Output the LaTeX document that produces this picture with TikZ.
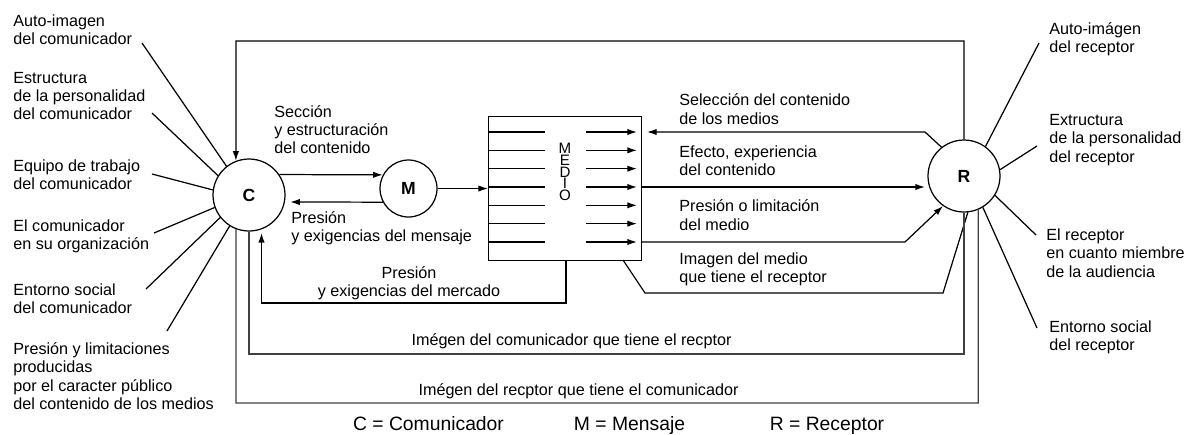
\documentclass[tikz,border=0pt]{standalone}
\usepackage{fontspec}
\setmainfont{Liberation Sans}
\usetikzlibrary{arrows.meta}
\begin{document}
\begin{tikzpicture}[x=0.02cm,y=-0.02cm,
  lw/.style={line width=0.7pt},
  arr/.style={lw,-{Latex[length=5.5pt,width=3.6pt]}},
  loopline/.style={lw,draw=black!75},
  circ/.style={circle,draw,lw,inner sep=0pt,fill=white,font=\fontsize{10}{12}\selectfont\bfseries},
  lbl/.style={inner sep=0pt,align=left,anchor=west,font=\fontsize{9.2}{10.45}\selectfont},
  clbl/.style={inner sep=0pt,align=center,font=\fontsize{9.2}{10.45}\selectfont},
  leg/.style={inner sep=0pt,anchor=base,font=\fontsize{11}{13}\selectfont},
]
\useasboundingbox (0,0) rectangle (1190,434);

% main nodes
\node[circ,minimum size=1.44cm] (C) at (249,195) {C};
\node[circ,minimum size=1.14cm] (M) at (408.5,188.5) {M};
\node[circ,minimum size=1.44cm] (R) at (964,176) {R};
\node[draw,lw,minimum width=3.06cm,minimum height=2.88cm,inner sep=0pt,anchor=north west] (medio) at (488,116) {};

% inner lines of the medium
\foreach \i in {0,...,6} {
  \pgfmathsetmacro\yy{132+18.33*\i}
  \draw[lw] (488,\yy) -- (545,\yy);
  \draw[arr] (586,\yy) -- (637,\yy);
}
\node[inner sep=0pt,align=center,font=\fontsize{8.6}{6.75}\selectfont] (medtxt) at (565,172) {M\\E\\D\\I\\O};

% left labels
\node[lbl] (l1) at (13,30) {Auto-imagen\\del comunicador};
\node[lbl] (l2) at (13,96) {Estructura\\de la personalidad\\del comunicador};
\node[lbl] (l3) at (13,174.5) {Equipo de trabajo\\del comunicador};
\node[lbl] (l4) at (13,236) {El comunicador\\en su organización};
\node[lbl] (l5) at (13,298.5) {Entorno social\\del comunicador};
\node[lbl] (l6) at (13,376) {Presión y limitaciones\\producidas\\por el caracter público\\del contenido de los medios};

\coordinate (s1) at (142,43);
\coordinate (s2) at (152,113);
\coordinate (s3) at (152,174);
\coordinate (s4) at (154,233);
\coordinate (s5) at (146,289);
\coordinate (s6) at (167,331);
\draw[lw] (s1) -- (C.128);
\draw[lw] (s2) -- (C.148);
\draw[lw] (s3) -- (C.172);
\draw[lw] (s4) -- (C.200);
\draw[lw] (s5) -- (C.218);
\draw[lw] (s6) -- (C.238);

% right labels
\node[lbl] (r1) at (1049,39.5) {Auto-imágen\\del receptor};
\node[lbl] (r2) at (1049,140) {Extructura\\de la personalidad\\del receptor};
\node[lbl] (r3) at (1046,253) {El receptor\\en cuanto miembre\\de la audiencia};
\node[lbl] (r4) at (1049,337) {Entorno social\\del receptor};

\coordinate (t1) at (1039,43);
\coordinate (t2) at (1037,146);
\coordinate (t3) at (1036,235);
\coordinate (t4) at (1037,328);
\draw[lw] (t1) -- (R.54);
\draw[lw] (t2) -- (R.10);
\draw[lw] (t3) -- (R.328);
\draw[lw] (t4) -- (R.301);

% C <-> M, M -> medio
\draw[arr] (C.34) -- (M.152);
\draw[arr,shorten >=3pt] (M.208) -- (C.349);
\draw[arr] (M.east) -- (medio.west |- M.east);

\node[lbl] (sec) at (274,129.5) {Sección\\y estructuración\\del contenido};
\node[lbl] (pmen) at (291,228.5) {Presión\\y exigencias del mensaje};
\node[clbl] (pmer) at (409,283.5) {Presión\\y exigencias del mercado};

% market pressure
\coordinate (mk0) at (566,260);
\coordinate (mk) at (566,303);
\draw[arr,shorten >=2pt] (mk0) -- (mk) -| (C.290);

% top feedback
\coordinate (top) at (236,41);
\draw[arr] (R.north) |- (top) -- (C.111);

% right side connectors
\coordinate (se1) at (925,132);
\coordinate (se2) at (647,132);
\draw[arr] (R.128) -- (se1) -- (se2);
\coordinate (ef1) at (641,187);
\coordinate (ef2) at (925,187);
\draw[arr] (ef1) -- (ef2);
\coordinate (pl1) at (641,242);
\coordinate (pl2) at (905,242);
\draw[arr] (pl1) -- (pl2) -- (R.235);
\coordinate (im0) at (623,260);
\coordinate (im1) at (645,293);
\coordinate (im2) at (943,293);
\draw[lw] (im0) -- (im1) -- (im2) -- (R.276);

\node[lbl] (sel) at (679,109) {Selección del contenido\\de los medios};
\node[lbl] (efe) at (679,161) {Efecto, experiencia\\del contenido};
\node[lbl] (pre) at (679,215) {Presión o limitación\\del medio};
\node[lbl] (ima) at (679,269.5) {Imagen del medio\\que tiene el receptor};

% bottom loops
\coordinate (b1) at (249,354);
\draw[loopline] (R.south) |- (b1) -- (C.south);
\coordinate (b2) at (236,403);
\draw[loopline] (R.293) |- (b2) -- (C.249);

\node[clbl] (ic) at (571.5,341) {Imégen del comunicador que tiene el recptor};
\node[clbl] (ir) at (578.5,391) {Imégen del recptor que tiene el comunicador};

% legend
\node[leg] (lc) at (428.5,430) {C = Comunicador};
\node[leg] (lm) at (629.5,430) {M = Mensaje};
\node[leg] (lr) at (827,430) {R = Receptor};
\end{tikzpicture}
\end{document}
